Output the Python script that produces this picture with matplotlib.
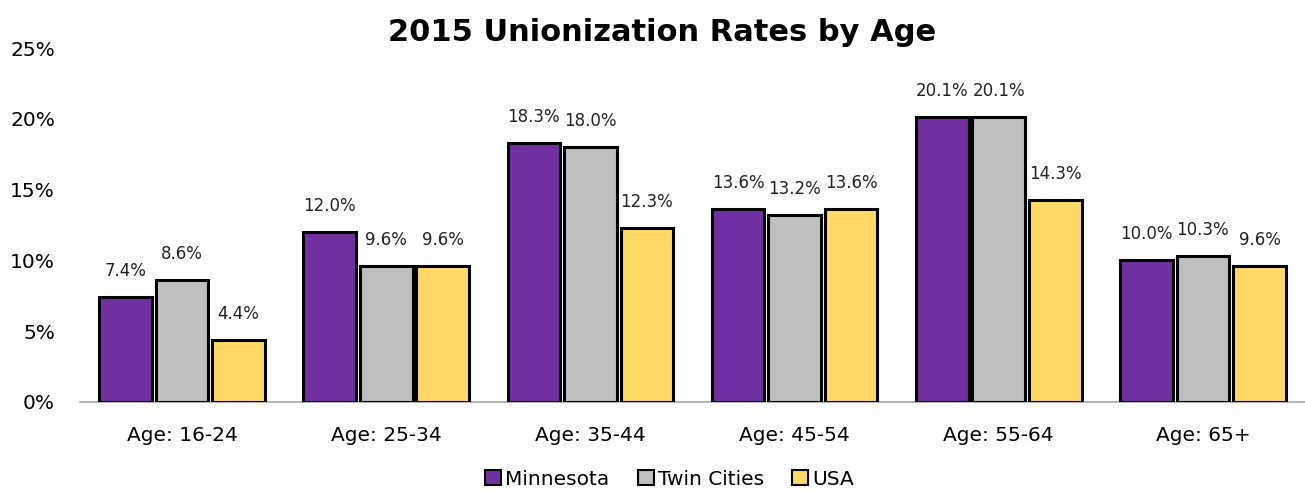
import matplotlib
matplotlib.use("Agg")
import matplotlib.pyplot as plt
import numpy as np

categories = ["Age: 16-24", "Age: 25-34", "Age: 35-44", "Age: 45-54", "Age: 55-64", "Age: 65+"]
minnesota = [7.4, 12.0, 18.3, 13.6, 20.1, 10.0]
twin_cities = [8.6, 9.6, 18.0, 13.2, 20.1, 10.3]
usa = [4.4, 9.6, 12.3, 13.6, 14.3, 9.6]
series_names = ["Minnesota", "Twin Cities", "USA"]
colors = ["#7030A0", "#BFBFBF", "#FFD966"]

fig = plt.figure(figsize=(13.05, 4.93), dpi=100)
ax = fig.add_axes([0.0613, 0.1846, 0.9387, 0.718])

x = np.arange(len(categories))
pitch = 0.277
width = 0.258
for i, (vals, name, c) in enumerate(zip([minnesota, twin_cities, usa], series_names, colors)):
    pos = x + (i - 1) * pitch
    bars = ax.bar(pos, vals, width, color=c, edgecolor="black", linewidth=2.2, label=name, zorder=3)
    for b, v in zip(bars, vals):
        ax.text(b.get_x() + b.get_width() / 2, v + 1.2, f"{v:.1f}%", ha="center", va="bottom",
                fontsize=12, color="#222222")

ax.set_xlim(-0.5, len(categories) - 0.5)
ax.set_ylim(0, 25)
ax.set_yticks([0, 5, 10, 15, 20, 25])
ax.set_yticklabels([f"{t}%" for t in [0, 5, 10, 15, 20, 25]], fontsize=14.5)
ax.set_xticks(x)
ax.set_xticklabels(categories, fontsize=14.5)
ax.tick_params(axis="y", length=0, pad=18)
ax.tick_params(axis="x", length=0, pad=17)
for s in ["top", "right", "left"]:
    ax.spines[s].set_visible(False)
ax.spines["bottom"].set_color("#A6A6A6")
ax.spines["bottom"].set_linewidth(1.2)

fig.text(0.507, 0.935, "2015 Unionization Rates by Age", ha="center", va="center",
         fontsize=22, fontweight="bold")

leg = fig.legend(loc="center", bbox_to_anchor=(0.513, 0.028), ncol=3, frameon=False,
                 fontsize=14.5, handlelength=0.8, handleheight=0.8, handletextpad=0.2,
                 columnspacing=1.4)
for h in leg.legend_handles:
    h.set_linewidth(1.5)

fig.savefig("out.png", dpi=100)
